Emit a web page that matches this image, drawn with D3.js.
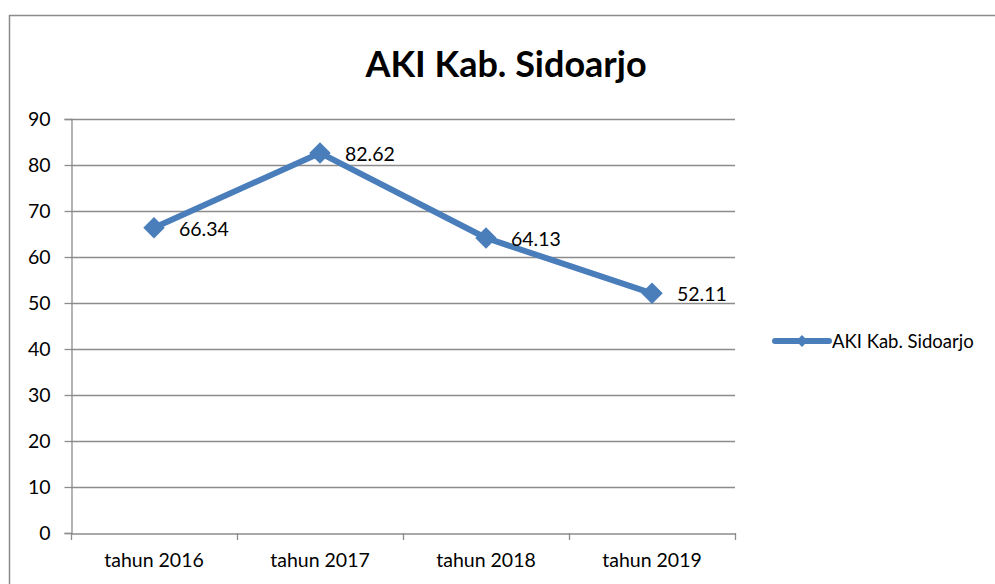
<!DOCTYPE html>
<html><head><meta charset="utf-8">
<script src="https://cdn.jsdelivr.net/npm/d3@7"></script>
<style>body{margin:0;background:#fff}svg{display:block}</style>
</head><body>
<svg id="c" width="995" height="584"></svg>
<script>
const categories = ["tahun 2016","tahun 2017","tahun 2018","tahun 2019"];
const values = [66.34, 82.62, 64.13, 52.11];
const yTicks = [0,10,20,30,40,50,60,70,80,90];
const seriesName = "AKI Kab. Sidoarjo";
const title = "AKI Kab. Sidoarjo";

const svg = d3.select("#c");
const font = "Lato, 'Open Sans', sans-serif";
const color = "#4A7EBB";
const L = 71, R = 735, T = 119, B = 533;
const fs = 19.5;

svg.append("rect").attr("x",9.5).attr("y",15.5).attr("width",1000).attr("height",600)
  .attr("fill","#fff").attr("stroke","#8c8c8c").attr("stroke-width",1.5);

const x = d3.scaleBand().domain(categories).range([L,R]).padding(0);
const y = d3.scaleLinear().domain([0,90]).range([B,T]);

svg.append("text").attr("x",506).attr("y",77).attr("text-anchor","middle")
  .attr("font-family",font).attr("font-weight","bold").attr("font-size",36).attr("fill","#000").text(title);

// gridlines
svg.append("g").selectAll("line").data(yTicks.filter(d=>d>0)).join("line")
  .attr("x1",L).attr("x2",R).attr("y1",d=>Math.round(y(d))+0.5).attr("y2",d=>Math.round(y(d))+0.5)
  .attr("stroke","#8c8c8c").attr("stroke-width",1.3);

// y axis
const ya = svg.append("g").attr("transform",`translate(${L+0.5},0)`)
  .call(d3.axisLeft(y).tickValues(yTicks).tickSize(7).tickPadding(14));
ya.select(".domain").attr("stroke","#8c8c8c").attr("stroke-width",1.3);
ya.selectAll(".tick line").attr("stroke","#8c8c8c").attr("stroke-width",1.3);
ya.selectAll("text").attr("font-family",font).attr("font-size",fs).attr("fill","#000");

// x axis
const xa = svg.append("g").attr("transform",`translate(0,${B+0.5})`)
  .call(d3.axisBottom(x).tickSize(0).tickPadding(20));
xa.select(".domain").attr("stroke","#8c8c8c").attr("stroke-width",1.3);
xa.selectAll("text").attr("font-family",font).attr("font-size",fs).attr("fill","#000");
const xt = categories.map(c=>x(c)).concat([R]);
svg.append("g").selectAll("line").data(xt).join("line")
  .attr("x1",d=>d+0.5).attr("x2",d=>d+0.5).attr("y1",B).attr("y2",B+7)
  .attr("stroke","#8c8c8c").attr("stroke-width",1.3);

const cx = d=>x(d)+x.bandwidth()/2;
const pts = categories.map((c,i)=>[cx(c), y(values[i])]);
svg.append("path").attr("d",d3.line()(pts)).attr("fill","none")
  .attr("stroke",color).attr("stroke-width",6).attr("stroke-linejoin","round");

svg.append("g").selectAll("path").data(pts).join("path")
  .attr("d",d3.symbol().type(d3.symbolSquare).size(230))
  .attr("transform",d=>`translate(${d[0]},${d[1]}) rotate(45)`)
  .attr("fill",color);

svg.append("g").selectAll("text").data(pts).join("text")
  .attr("x",d=>d[0]+25).attr("y",d=>d[1]+8)
  .attr("font-family",font).attr("font-size",fs).attr("fill","#000")
  .text((d,i)=>values[i].toFixed(2));

// legend
const ly = 341;
svg.append("line").attr("x1",775).attr("x2",829).attr("y1",ly).attr("y2",ly)
  .attr("stroke",color).attr("stroke-width",6).attr("stroke-linecap","round");
svg.append("path").attr("d",d3.symbol().type(d3.symbolSquare).size(70))
  .attr("transform",`translate(802,${ly}) rotate(45)`).attr("fill",color);
svg.append("text").attr("x",832).attr("y",ly+7).attr("font-family",font).attr("font-size",fs-1)
  .attr("fill","#000").text(seriesName);
</script>
</body></html>
